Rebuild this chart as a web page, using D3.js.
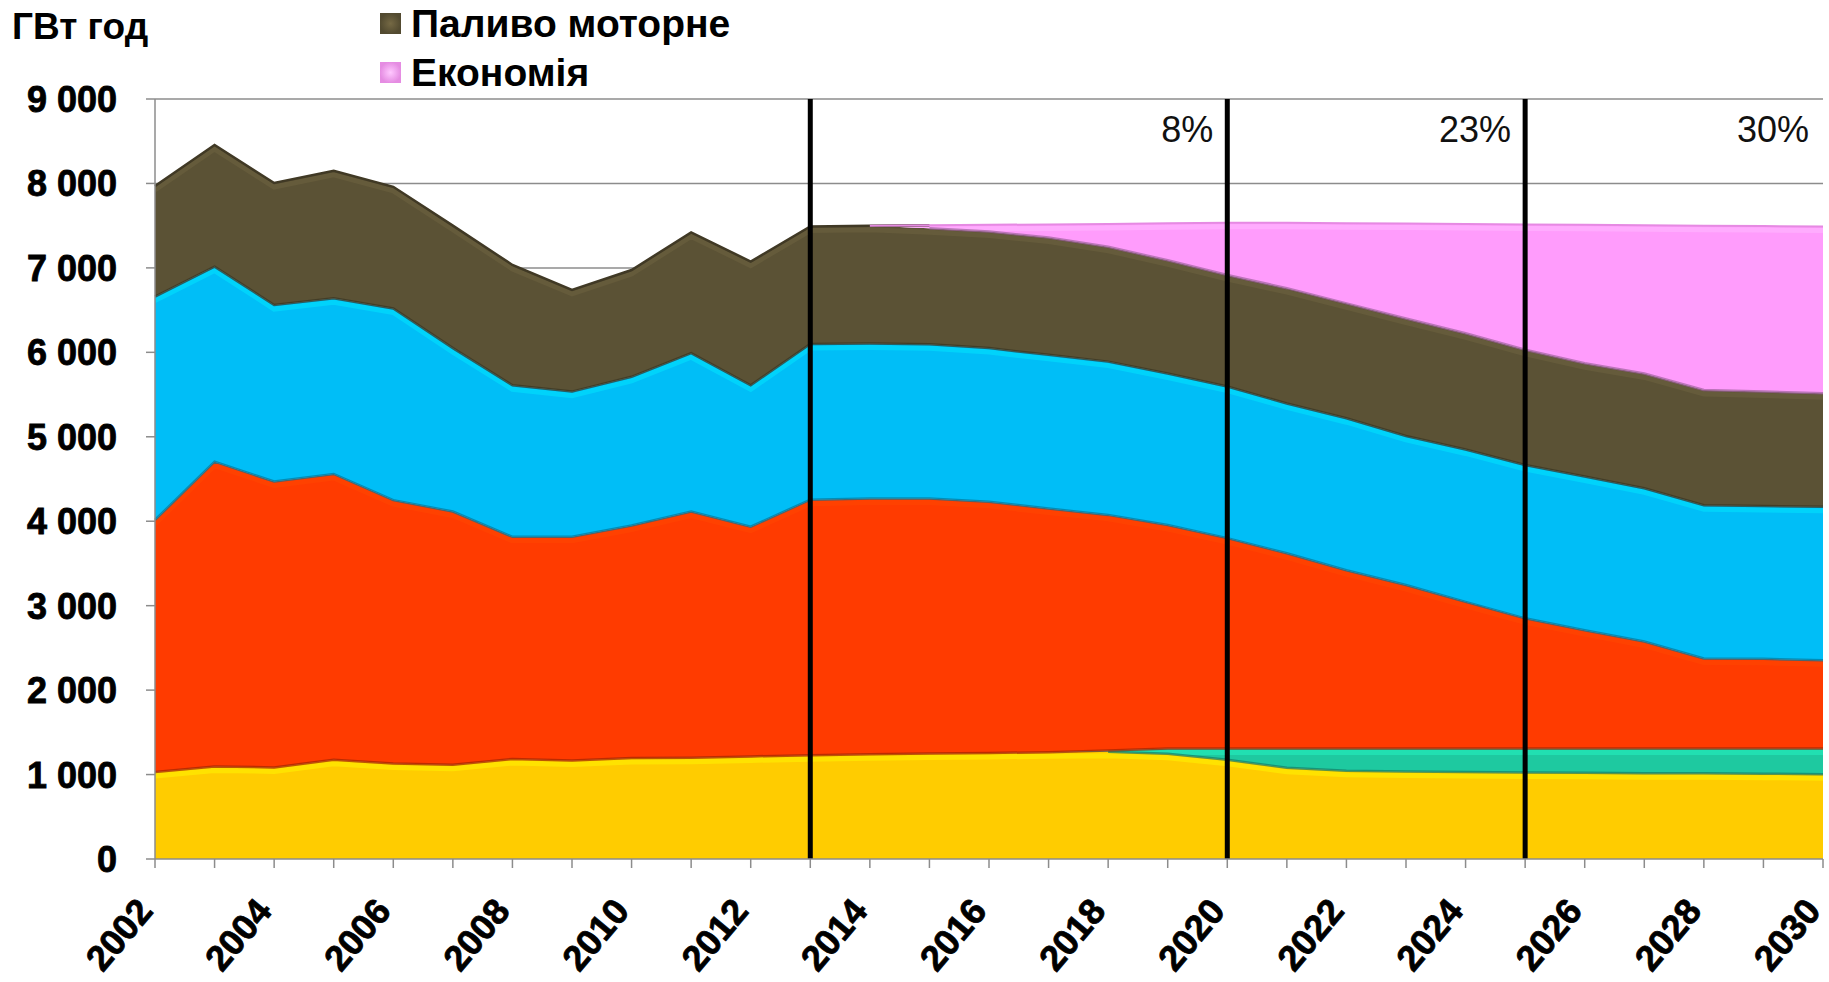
<!DOCTYPE html>
<html>
<head>
<meta charset="utf-8">
<script src="https://cdn.jsdelivr.net/npm/d3@7"></script>
<style>
    body { margin: 0; background: #fff; }
    svg { display: block; font-family: "Liberation Sans", Arial, sans-serif; }
</style>
</head>
<body>
<div id="chart"></div>
<script>
// values, ГВт год

const years = [2002, 2003, 2004, 2005, 2006, 2007, 2008, 2009, 2010, 2011, 2012, 2013, 2014, 2015,
               2016, 2017, 2018, 2019, 2020, 2021, 2022, 2023, 2024, 2025, 2026, 2027, 2028, 2029, 2030];

// stacked layers, bottom to top
const yellowLayer = [1030, 1095, 1085, 1175, 1130, 1115, 1185, 1165, 1195, 1200, 1215, 1230, 1240, 1250,
                     1255, 1265, 1270, 1245, 1175, 1080, 1045, 1035, 1030, 1025, 1020, 1015, 1015, 1010, 1005];
const tealLayer   = [0, 0, 0, 0, 0, 0, 0, 0, 0, 0, 0, 0, 0, 0,
                     0, 0, 15, 65, 135, 230, 265, 275, 280, 285, 290, 295, 295, 300, 305];
const redLayer    = [2985, 3610, 3385, 3385, 3120, 3000, 2630, 2650, 2755, 2915, 2720, 3025, 3030, 3020,
                     2975, 2885, 2790, 2645, 2490, 2310, 2110, 1935, 1735, 1540, 1400, 1265, 1065, 1060, 1045];
const blueLayer   = [2645, 2310, 2090, 2080, 2270, 1935, 1795, 1720, 1760, 1875, 1675, 1845, 1835, 1825,
                     1820, 1820, 1815, 1795, 1795, 1775, 1800, 1765, 1805, 1815, 1820, 1815, 1815, 1810, 1815];
const motorFuel   = [1310, 1440, 1445, 1510, 1440, 1450, 1425, 1205, 1265, 1430, 1465, 1390, 1395, 1375,
                     1380, 1390, 1360, 1340, 1320, 1365, 1360, 1390, 1375, 1365, 1340, 1360, 1365, 1355, 1345];
const savings     = [0, 0, 0, 0, 0, 0, 0, 0, 0, 0, 0, 0, 0, 35,
                     80, 155, 270, 440, 620, 775, 950, 1125, 1295, 1485, 1640, 1755, 1945, 1960, 1975];

const layerKeys = ['yellow', 'teal', 'red', 'blue', 'motor', 'saving'];
const layerValues = [yellowLayer, tealLayer, redLayer, blueLayer, motorFuel, savings];

const legendLabels = ['Паливо моторне', 'Економія'];
const legendKeys = ['motor', 'saving'];

const yTicks = [0, 1000, 2000, 3000, 4000, 5000, 6000, 7000, 8000, 9000];
const xTickLabels = [2002, 2004, 2006, 2008, 2010, 2012, 2014, 2016, 2018, 2020, 2022, 2024, 2026, 2028, 2030];

const dividerYears = [2013, 2020, 2025];
const shareYears = [2020, 2025, 2030];
const shareLabels = ['8%', '23%', '30%'];

const unitLabel = 'ГВт год';

// colours for each layer
const colours = {
    yellow: '#FFCC00',
    teal: '#1EC9A0',
    red: '#FF3B00',
    blue: '#00BEF7',
    motor: '#5B5235',
    saving: '#FF9CFC'
};

// ### build the chart ###

const width = 1829;
const height = 982;
const plot = {left: 155, right: 1823, top: 99, bottom: 859};

const svg = d3.select('#chart').append('svg')
    .attr('width', width)
    .attr('height', height);
const defs = svg.append('defs');

// table for the stack, one row per year
const table = years.map((yr, i) => {
    const row = {year: yr};
    layerKeys.forEach((k, j) => row[k] = layerValues[j][i]);
    return row;
});

const stacked = d3.stack().keys(layerKeys)(table);

const x = d3.scaleLinear()
    .domain([years[0], years[years.length - 1]])
    .range([plot.left, plot.right]);

const y = d3.scaleLinear()
    .domain([0, 9000])
    .range([plot.bottom, plot.top]);

// gridlines (behind areas)
svg.append('g').selectAll('line')
    .data(yTicks.filter(t => t > 0))
    .enter()
    .append('line')
        .attr('x1', plot.left)
        .attr('x2', plot.right)
        .attr('y1', d => y(d))
        .attr('y2', d => y(d))
        .style('stroke', '#8c8c8c')
        .style('stroke-width', 1.5);

// areas
const area = d3.area()
    .x(d => x(d.data.year))
    .y0(d => y(d[0]))
    .y1(d => y(d[1]));

svg.append('g').selectAll('path')
    .data(stacked)
    .enter()
    .append('path')
        .attr('d', area)
        .style('fill', d => colours[d.key]);

// clip paths so each highlight stays inside its own layer
stacked.forEach(layer => {
    defs.append('clipPath').attr('id', 'clip-' + layer.key)
        .append('path').attr('d', area(layer));
});

// soft bevel: light band under each top edge, dark line at each lower edge
function hasThickness(vals) {
    return (d, i) => vals[i] > 0 || vals[i - 1] > 0 || vals[i + 1] > 0;
}

const edges = svg.append('g');
stacked.forEach((layer, j) => {
    const vals = layerValues[j];
    const c = d3.color(colours[layer.key]);

    edges.append('path')
        .datum(layer)
        .attr('clip-path', `url(#clip-${layer.key})`)
        .attr('d', d3.line()
            .defined(hasThickness(vals))
            .x(d => x(d.data.year))
            .y(d => y(d[1]) + 4))
        .style('fill', 'none')
        .style('stroke', c.brighter(0.5))
        .style('stroke-opacity', 0.55)
        .style('stroke-width', 5);

    if (j > 0) {
        edges.append('path')
            .datum(layer)
            .attr('d', d3.line()
                .defined((d, i) => vals[i] > 0 || vals[i - 1] > 0)
                .x(d => x(d.data.year))
                .y(d => y(d[0])))
            .style('fill', 'none')
            .style('stroke', c.darker(1.3))
            .style('stroke-opacity', 0.7)
            .style('stroke-width', 2.5);
    }
});

// outer top edge of the chart
const topLayer = stacked[stacked.length - 1];
edges.append('path')
    .datum(topLayer)
    .attr('d', d3.line()
        .defined((d, i) => savings[i] === 0 || savings[i - 1] === 0)
        .x(d => x(d.data.year))
        .y(d => y(d[1])))
    .style('fill', 'none')
    .style('stroke', d3.color(colours.motor).darker(1))
    .style('stroke-width', 2.5);

edges.append('path')
    .datum(topLayer)
    .attr('d', d3.line()
        .defined(hasThickness(savings))
        .x(d => x(d.data.year))
        .y(d => y(d[1])))
    .style('fill', 'none')
    .style('stroke', '#e58ae2')
    .style('stroke-width', 2);

// vertical dividers
svg.append('g').selectAll('line')
    .data(dividerYears)
    .enter()
    .append('line')
        .attr('x1', d => x(d))
        .attr('x2', d => x(d))
        .attr('y1', y(9000))
        .attr('y2', plot.bottom)
        .style('stroke', '#000')
        .style('stroke-width', 5);

// percentage notes
svg.append('g').selectAll('text')
    .data(shareYears)
    .enter()
    .append('text')
        .attr('x', d => x(d) - 14)
        .attr('y', 142)
        .attr('text-anchor', 'end')
        .style('font-size', '36px')
        .style('fill', '#111')
        .text((d, i) => shareLabels[i]);

// axes
const fmt = d3.formatLocale({decimal: ',', thousands: ' ', grouping: [3], currency: ['', '']}).format(',d');

const yAxis = svg.append('g');
yAxis.append('line')
    .attr('x1', plot.left).attr('x2', plot.left)
    .attr('y1', plot.top).attr('y2', plot.bottom)
    .style('stroke', '#8c8c8c').style('stroke-width', 1.5);
yAxis.selectAll('.tick')
    .data(yTicks)
    .enter()
    .append('line')
        .attr('x1', plot.left - 9).attr('x2', plot.left)
        .attr('y1', d => y(d)).attr('y2', d => y(d))
        .style('stroke', '#8c8c8c').style('stroke-width', 1.5);
yAxis.selectAll('text')
    .data(yTicks)
    .enter()
    .append('text')
        .attr('x', 117)
        .attr('y', d => y(d))
        .attr('dy', '0.36em')
        .attr('text-anchor', 'end')
        .style('font-size', '36px')
        .style('font-weight', 'bold')
        .style('fill', '#000')
        .style('stroke', '#000')
        .style('stroke-width', 0.8)
        .text(d => fmt(d));

const xAxis = svg.append('g');
xAxis.append('line')
    .attr('x1', plot.left).attr('x2', plot.right)
    .attr('y1', plot.bottom).attr('y2', plot.bottom)
    .style('stroke', '#8c8c8c').style('stroke-width', 1.5);
xAxis.selectAll('.tick')
    .data(years)
    .enter()
    .append('line')
        .attr('x1', d => x(d)).attr('x2', d => x(d))
        .attr('y1', plot.bottom).attr('y2', plot.bottom + 9)
        .style('stroke', '#8c8c8c').style('stroke-width', 1.5);
xAxis.selectAll('text')
    .data(xTickLabels)
    .enter()
    .append('text')
        .attr('transform', d => `translate(${x(d) - 9}, 905) rotate(-50)`)
        .attr('dy', '0.3em')
        .attr('text-anchor', 'end')
        .style('font-size', '36px')
        .style('font-weight', 'bold')
        .style('fill', '#000')
        .style('stroke', '#000')
        .style('stroke-width', 0.8)
        .text(d => d);

// unit caption
svg.append('text')
    .attr('x', 12)
    .attr('y', 39)
    .style('font-size', '37px')
    .style('font-weight', 'bold')
    .text(unitLabel);

// legend with shaded swatches
legendKeys.forEach(k => {
    const g = defs.append('radialGradient').attr('id', 'sw-' + k);
    g.append('stop').attr('offset', '0%').attr('stop-color', d3.color(colours[k]).brighter(0.7));
    g.append('stop').attr('offset', '100%').attr('stop-color', d3.color(colours[k]).darker(0.3));
});

const legend = svg.append('g').selectAll('g')
    .data(legendKeys)
    .enter()
    .append('g')
        .attr('transform', (d, i) => `translate(380, ${13 + i * 49})`);
legend.append('rect')
    .attr('width', 21)
    .attr('height', 21)
    .style('fill', d => `url(#sw-${d})`);
legend.append('text')
    .attr('x', 31)
    .attr('y', 24)
    .style('font-size', '39px')
    .style('font-weight', 'bold')
    .text((d, i) => legendLabels[i]);
</script>
</body>
</html>
